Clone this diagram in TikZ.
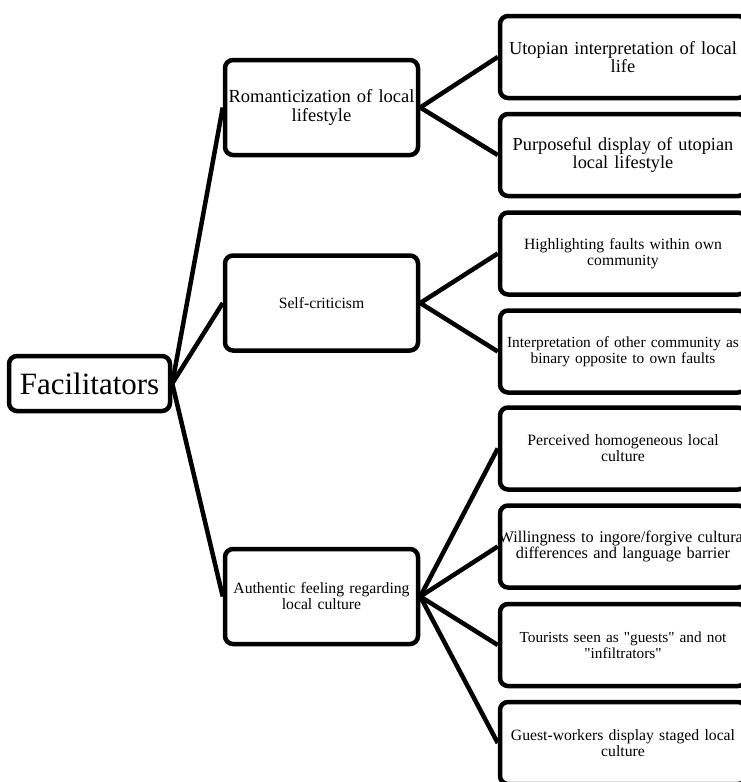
\documentclass[tikz,border=0pt]{standalone}
\usepackage{fontspec}
\setmainfont{Liberation Serif}
\usetikzlibrary{positioning}

\begin{document}
\begin{tikzpicture}[x=1pt, y=-1pt, line width=4.5pt,
  every box/.style={draw, rounded corners=8pt, fill=white, align=center, inner xsep=2pt, inner ysep=0pt},
  root box/.style={every box, text width=157pt, minimum height=55pt, font=\fontsize{31}{34}\selectfont},
  mid box/.style={every box, text width=189pt, minimum height=95pt},
  leaf box/.style={every box, text width=242pt, minimum height=82pt}]

\useasboundingbox (0,0) rectangle (740,782);

\node [root box] (root) at (89.5,383.5) {Facilitators};

\foreach \m/\y/\f/\t in {romant/107.5/{\fontsize{18.5}{18.5}\selectfont}/{Romanticization of local\\lifestyle},
                         selfc/303/{\fontsize{15.7}{16}\selectfont}/{Self-criticism},
                         auth/596.5/{\fontsize{15.7}{16}\selectfont}/{Authentic feeling regarding\\local culture}}
  \node [mid box, font=\f] (\m) at (321.5,\y) {\t};

\foreach \y/\f/\t [count=\i] in {57/{\fontsize{18.4}{18.4}\selectfont}/{Utopian interpretation of local\\life},
    155/{\fontsize{18.3}{18.3}\selectfont}/{Purposeful display of utopian\\local lifestyle},
    253.5/{\fontsize{15.7}{16}\selectfont}/{Highlighting faults within own\\community},
    351.5/{\fontsize{15.4}{16}\selectfont}/{\makebox[\linewidth]{Interpretation of other community as}\\binary opposite to own faults},
    448.5/{\fontsize{15.8}{16}\selectfont}/{Perceived homogeneous local\\culture},
    546.5/{\fontsize{16.3}{16.3}\selectfont}/{\makebox[\linewidth]{Willingness to ingore/forgive cultural}\\differences and language barrier},
    645/{\fontsize{15.3}{16}\selectfont}/{Tourists seen as \textquotedbl guests\textquotedbl{} and not\\\textquotedbl infiltrators\textquotedbl},
    743/{\fontsize{15.7}{16}\selectfont}/{Guest-workers display staged local\\culture}}
  \node [leaf box, font=\f] (leaf-\i) at (623,\y) {\t};

% connectors
\foreach \a/\b in {root/romant, root/selfc, root/auth,
                   romant/leaf-1, romant/leaf-2,
                   selfc/leaf-3, selfc/leaf-4,
                   auth/leaf-5, auth/leaf-6, auth/leaf-7, auth/leaf-8}
  \draw (\a.east) -- (\b.west);

\end{tikzpicture}
\end{document}
